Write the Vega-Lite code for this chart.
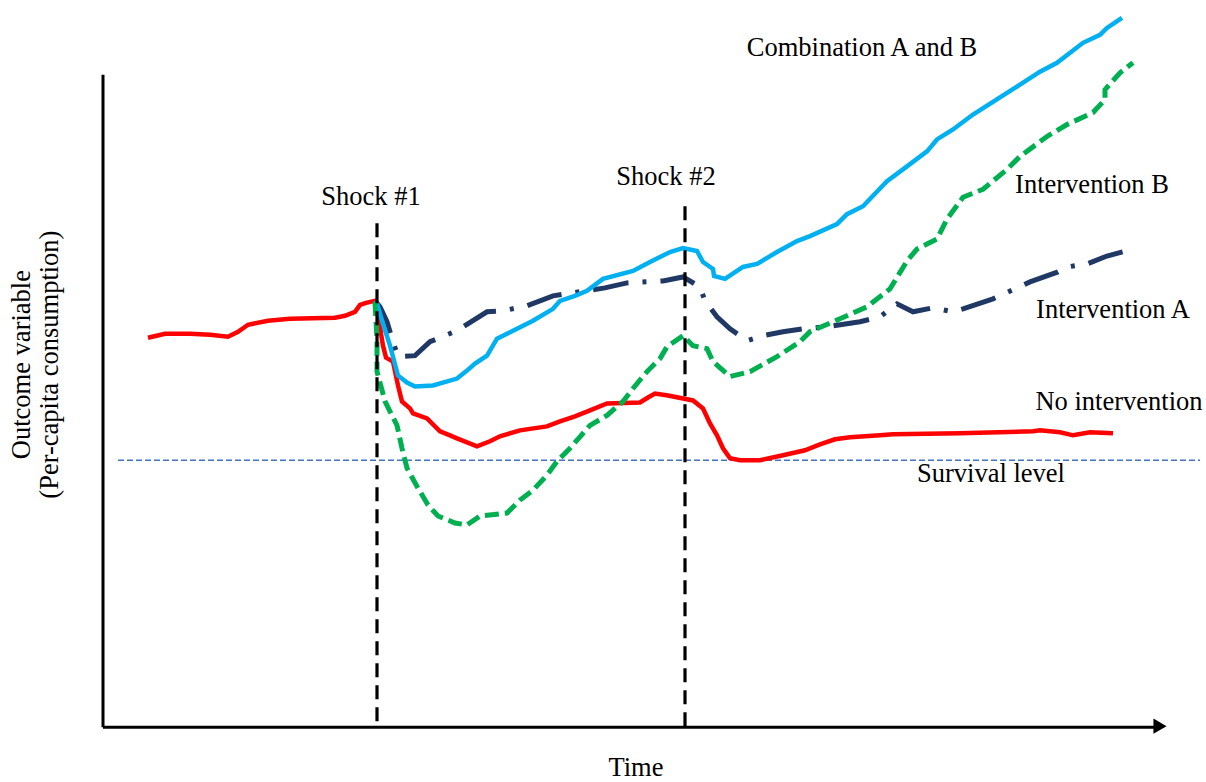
{
  "$schema": "https://vega.github.io/schema/vega-lite/v6.json",
  "width": 1206,
  "height": 782,
  "padding": 0,
  "autosize": {"type": "fit", "contains": "padding"},
  "background": "white",
  "config": {"view": {"stroke": null}},
  "datasets": {
    "red": [
      {"x":148,"y":339},{"x":165,"y":335},{"x":190,"y":335},{"x":210,"y":336},{"x":228,"y":338},{"x":238,"y":333},{"x":248,"y":326},{"x":268,"y":322},{"x":290,"y":320},{"x":335,"y":319},{"x":345,"y":317},{"x":355,"y":313},{"x":360,"y":306},{"x":366,"y":304},{"x":375,"y":302},{"x":378,"y":310},{"x":381,"y":335},{"x":383,"y":347},{"x":386,"y":359},{"x":393,"y":363},{"x":398,"y":387},{"x":402,"y":403},{"x":410,"y":410},{"x":413,"y":415},{"x":427,"y":420},{"x":440,"y":433},{"x":450,"y":437},{"x":457,"y":440},{"x":477,"y":448},{"x":490,"y":443},{"x":500,"y":438},{"x":520,"y":432},{"x":547,"y":428},{"x":560,"y":423},{"x":575,"y":418},{"x":590,"y":412},{"x":607,"y":405},{"x":640,"y":404},{"x":648,"y":399},{"x":655,"y":395},{"x":668,"y":397},{"x":693,"y":402},{"x":703,"y":410},{"x":710,"y":425},{"x":717,"y":437},{"x":723,"y":450},{"x":730,"y":460},{"x":740,"y":462},{"x":760,"y":462},{"x":783,"y":457},{"x":805,"y":452},{"x":820,"y":446},{"x":835,"y":441},{"x":850,"y":439},{"x":880,"y":437},{"x":893,"y":436},{"x":960,"y":435},{"x":1033,"y":433},{"x":1040,"y":432},{"x":1060,"y":434},{"x":1073,"y":437},{"x":1090,"y":434},{"x":1113,"y":435}
    ],
    "blue": [
      {"x":375,"y":302},{"x":377,"y":305},{"x":383,"y":325},{"x":390,"y":347},{"x":398,"y":377},{"x":407,"y":384},{"x":415,"y":388},{"x":433,"y":387},{"x":457,"y":380},{"x":467,"y":372},{"x":475,"y":365},{"x":487,"y":357},{"x":497,"y":340},{"x":513,"y":332},{"x":533,"y":322},{"x":553,"y":310},{"x":560,"y":302},{"x":575,"y":297},{"x":587,"y":292},{"x":603,"y":280},{"x":633,"y":272},{"x":650,"y":263},{"x":670,"y":253},{"x":683,"y":249},{"x":697,"y":252},{"x":703,"y":263},{"x":713,"y":270},{"x":714,"y":277},{"x":725,"y":280},{"x":743,"y":268},{"x":757,"y":265},{"x":777,"y":253},{"x":797,"y":242},{"x":810,"y":237},{"x":837,"y":225},{"x":847,"y":215},{"x":863,"y":207},{"x":887,"y":182},{"x":907,"y":167},{"x":927,"y":152},{"x":937,"y":140},{"x":953,"y":130},{"x":973,"y":115},{"x":1020,"y":85},{"x":1040,"y":72},{"x":1057,"y":63},{"x":1083,"y":43},{"x":1100,"y":35},{"x":1107,"y":28},{"x":1122,"y":18}
    ],
    "green": [
      {"x":375,"y":303},{"x":377,"y":340},{"x":377,"y":373},{"x":385,"y":403},{"x":392,"y":417},{"x":397,"y":427},{"x":402,"y":450},{"x":407,"y":470},{"x":418,"y":490},{"x":428,"y":507},{"x":438,"y":518},{"x":455,"y":525},{"x":467,"y":527},{"x":480,"y":518},{"x":507,"y":515},{"x":520,"y":502},{"x":533,"y":492},{"x":547,"y":477},{"x":557,"y":463},{"x":570,"y":450},{"x":590,"y":427},{"x":607,"y":417},{"x":623,"y":403},{"x":633,"y":390},{"x":647,"y":373},{"x":660,"y":360},{"x":667,"y":348},{"x":683,"y":337},{"x":693,"y":347},{"x":707,"y":350},{"x":713,"y":363},{"x":730,"y":378},{"x":750,"y":373},{"x":777,"y":358},{"x":800,"y":343},{"x":810,"y":333},{"x":840,"y":320},{"x":867,"y":308},{"x":890,"y":290},{"x":907,"y":262},{"x":917,"y":250},{"x":937,"y":240},{"x":947,"y":220},{"x":963,"y":198},{"x":983,"y":190},{"x":1007,"y":170},{"x":1020,"y":157},{"x":1047,"y":137},{"x":1067,"y":125},{"x":1093,"y":113},{"x":1105,"y":100},{"x":1105,"y":90},{"x":1120,"y":73},{"x":1133,"y":63}
    ],
    "navy": [
      {"x":375,"y":302},{"x":380,"y":308},{"x":387,"y":323},{"x":393,"y":343},{"x":398,"y":358},{"x":415,"y":357},{"x":430,"y":343},{"x":457,"y":332},{"x":487,"y":313},{"x":503,"y":312},{"x":527,"y":307},{"x":553,"y":297},{"x":585,"y":292},{"x":605,"y":289},{"x":627,"y":284},{"x":663,"y":282},{"x":683,"y":278},{"x":700,"y":288},{"x":705,"y":302},{"x":717,"y":318},{"x":730,"y":330},{"x":747,"y":342},{"x":763,"y":337},{"x":783,"y":333},{"x":803,"y":330},{"x":827,"y":328},{"x":860,"y":323},{"x":880,"y":318},{"x":897,"y":305},{"x":913,"y":313},{"x":933,"y":309},{"x":953,"y":313},{"x":963,"y":310},{"x":993,"y":300},{"x":1030,"y":283},{"x":1058,"y":273},{"x":1067,"y":268},{"x":1087,"y":265},{"x":1107,"y":257},{"x":1133,"y":250}
    ],
    "shocks": [
      {"x":377,"y":224,"y2":730},{"x":685,"y":207,"y2":730}
    ],
    "survival": [{"x":118,"x2":1200,"y":462}],
    "axes": [
      {"x":103,"y":75,"x2":103,"y2":730},
      {"x":103,"y":730,"x2":1156,"y2":730}
    ],
    "arrow": [{"x":1160,"y":729}],
    "labels": [
      {"x":862,"y":48,"label":"Combination A and B"},
      {"x":371,"y":198,"label":"Shock #1"},
      {"x":666,"y":178,"label":"Shock #2"},
      {"x":1092,"y":186,"label":"Intervention B"},
      {"x":1113,"y":311,"label":"Intervention A"},
      {"x":1119,"y":404,"label":"No intervention"},
      {"x":991,"y":476,"label":"Survival level"},
      {"x":636,"y":771,"label":"Time"}
    ],
    "ylabels": [
      {"x":22,"y":366,"label":"Outcome variable"},
      {"x":50,"y":366,"label":"(Per-capita consumption)"}
    ]
  },
  "encoding": {
    "x": {"field":"x","type":"quantitative","scale":{"domain":[0,1206],"nice":false,"zero":false},"axis":null},
    "y": {"field":"y","type":"quantitative","scale":{"domain":[0,782],"nice":false,"zero":false,"reverse":true},"axis":null}
  },
  "layer": [
    {"data":{"name":"survival"},"mark":{"type":"rule","color":"#4472C4","strokeWidth":1.6,"strokeDash":[6,3]},"encoding":{"x2":{"field":"x2"}}},
    {"data":{"name":"axes"},"mark":{"type":"rule","color":"black","strokeWidth":3},"encoding":{"x2":{"field":"x2"},"y2":{"field":"y2"}}},
    {"data":{"name":"arrow"},"mark":{"type":"point","shape":"triangle-right","filled":true,"color":"black","size":230,"opacity":1}},
    {"data":{"name":"red"},"mark":{"type":"line","color":"#FF0000","strokeWidth":4.5},"encoding":{"order":{"value":null}}},
    {"data":{"name":"navy"},"mark":{"type":"line","color":"#203864","strokeWidth":5,"strokeDash":[36,14,4,14]},"encoding":{"order":{"value":null}}},
    {"data":{"name":"blue"},"mark":{"type":"line","color":"#00B0F0","strokeWidth":4.5},"encoding":{"order":{"value":null}}},
    {"data":{"name":"green"},"mark":{"type":"line","color":"#00B050","strokeWidth":5,"strokeDash":[14,6]},"encoding":{"order":{"value":null}}},
    {"data":{"name":"shocks"},"mark":{"type":"rule","color":"black","strokeWidth":3.2,"strokeDash":[14,8]},"encoding":{"y2":{"field":"y2"}}},
    {"data":{"name":"labels"},"mark":{"type":"text","font":"Liberation Serif","fontSize":26.5,"color":"black","align":"center","baseline":"middle"},"encoding":{"text":{"field":"label"}}},
    {"data":{"name":"ylabels"},"mark":{"type":"text","font":"Liberation Serif","fontSize":26.5,"color":"black","align":"center","baseline":"middle","angle":270},"encoding":{"text":{"field":"label"}}}
  ]
}
